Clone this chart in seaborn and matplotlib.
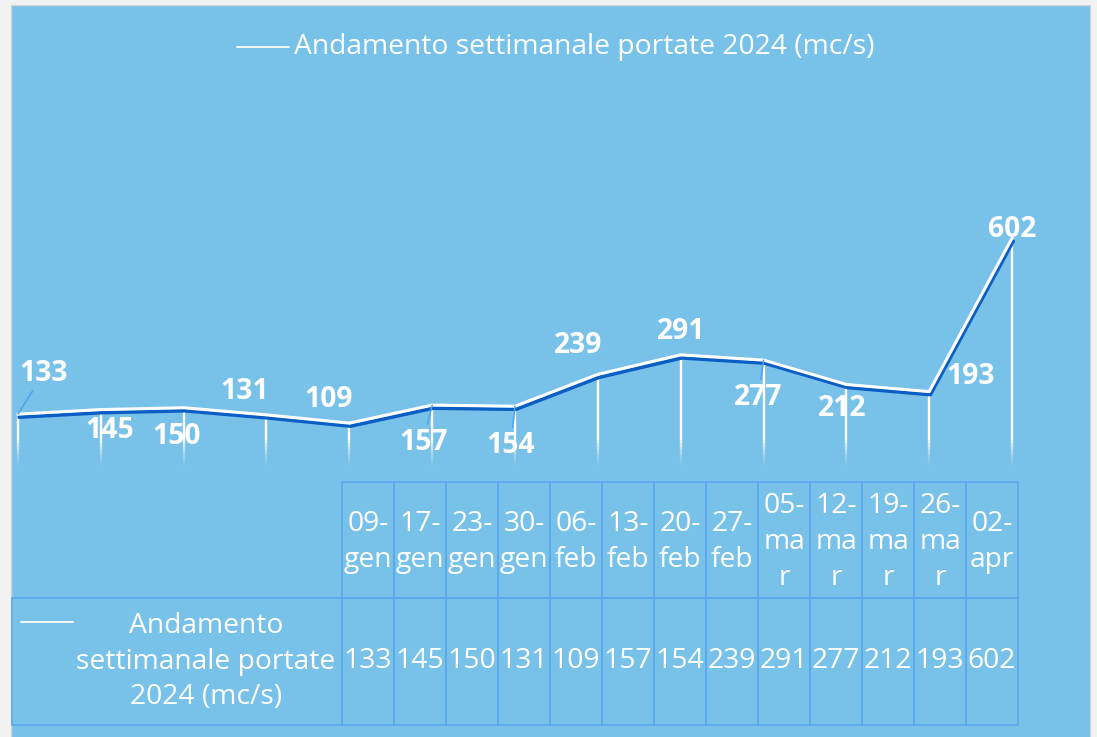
import numpy as np
import pandas as pd
import seaborn as sns
import matplotlib.pyplot as plt
import matplotlib.patheffects as pe
from matplotlib.patches import Rectangle

# --- data ---
dates = ["09-gen", "17-gen", "23-gen", "30-gen", "06-feb", "13-feb", "20-feb",
         "27-feb", "05-mar", "12-mar", "19-mar", "26-mar", "02-apr"]
header_labels = ["09-\ngen", "17-\ngen", "23-\ngen", "30-\ngen", "06-\nfeb", "13-\nfeb",
                 "20-\nfeb", "27-\nfeb", "05-\nma\nr", "12-\nma\nr", "19-\nma\nr",
                 "26-\nma\nr", "02-\napr"]
portate = [133, 145, 150, 131, 109, 157, 154, 239, 291, 277, 212, 193, 602]
series_name = "Andamento settimanale portate 2024 (mc/s)"
table_name = "Andamento\nsettimanale portate\n2024 (mc/s)"

df = pd.DataFrame({"pos": np.arange(len(dates)), "data": dates, "portata": portate})

# --- style ---
sns.set_style("white")
plt.rcParams["font.family"] = ["Open Sans", "DejaVu Sans"]
BG = "#78C1E8"
GRID = "#5BA9EE"
DARK = "#0B5EC4"
FS = 20.3
W, H = 1097, 737

fig = plt.figure(figsize=(W / 100, H / 100), dpi=100, facecolor="#f2f2f2")

# background layer + table (pixel coordinates)
bg = fig.add_axes([0, 0, 1, 1], zorder=0)
bg.set_xlim(0, W)
bg.set_ylim(H, 0)
bg.axis("off")
bg.add_patch(Rectangle((11, 5), 1079, 740, facecolor=BG, edgecolor="#d4d4d4", lw=1))

# top legend
bg.plot([237, 289], [47, 47], color="white", lw=1.3)
bg.text(294, 47, series_name, color="white", fontsize=FS, va="center", ha="left")

# table
col_w, x_start = 52, 342
row1_top, row1_bot, row2_bot = 482, 598, 725
for i, (lab, val) in enumerate(zip(header_labels, portate)):
    x0 = x_start + i * col_w
    bg.add_patch(Rectangle((x0, row1_top), col_w, row1_bot - row1_top,
                           facecolor="none", edgecolor=GRID, lw=1.2))
    bg.add_patch(Rectangle((x0, row1_bot), col_w, row2_bot - row1_bot,
                           facecolor="none", edgecolor=GRID, lw=1.2))
    bg.text(x0 + col_w / 2, (row1_top + row1_bot) / 2 + 2, lab, color="white",
            fontsize=FS, ha="center", va="center", linespacing=1.38)
    bg.text(x0 + col_w / 2, (row1_bot + row2_bot) / 2, str(val), color="white",
            fontsize=FS, ha="center", va="center")
bg.add_patch(Rectangle((12, row1_bot), x_start - 12, row2_bot - row1_bot,
                       facecolor="none", edgecolor=GRID, lw=1.2))
bg.plot([21, 73], [622, 622], color="white", lw=1.3)
bg.text(206, (row1_bot + row2_bot) / 2, table_name, color="white", fontsize=FS,
        ha="center", va="center", multialignment="center", linespacing=1.35)

# --- line chart ---
ax = fig.add_axes([12 / W, 1 - 470 / H, 1006 / W, 410 / H], zorder=1)
ax.patch.set_alpha(0)
ax.set_xlim(-0.072, len(dates) - 1 + 0.072)
ax.set_ylim(-16, 1077)
ax.axis("off")

# drop lines with fading bottom
ax.vlines(df["pos"], 64, df["portata"], color="white", lw=1.7)
fade = np.linspace(64, -10, 9)
for k in range(len(fade) - 1):
    ax.vlines(df["pos"], fade[k + 1], fade[k], color="white", lw=1.7,
              alpha=0.85 * (1 - k / (len(fade) - 1)) ** 1.5)

sns.lineplot(data=df, x="pos", y="portata", ax=ax, color="white", lw=2.2,
             path_effects=[pe.SimpleLineShadow(offset=(0.8, -2.2), shadow_color=DARK,
                                                alpha=1, linewidth=2.6),
                           pe.Normal()])

# data labels (offsets in pixels, Excel placed them by hand)
offsets = [(26, 41), (9, -21), (-7, -29), (-22, 23), (-21, 24), (-9, -37), (-4, -39),
           (-20, 29), (0, 23), (-5, -37), (-4, -24), (41, 15), (0, 9)]
leaders = {0, 5, 6, 9}
for i, (v, (dx, dy)) in enumerate(zip(portate, offsets)):
    kw = {}
    if i in leaders:
        kw["arrowprops"] = dict(arrowstyle="-", color="#4DA3F0", lw=1.1,
                                shrinkA=0, shrinkB=0)
    ax.annotate(str(v), xy=(i, v), xytext=(dx, dy), textcoords="offset pixels",
                ha="center", va="center", color="white", fontsize=FS,
                fontweight="bold", **kw)

fig.savefig("out.png", dpi=100, facecolor=fig.get_facecolor())
